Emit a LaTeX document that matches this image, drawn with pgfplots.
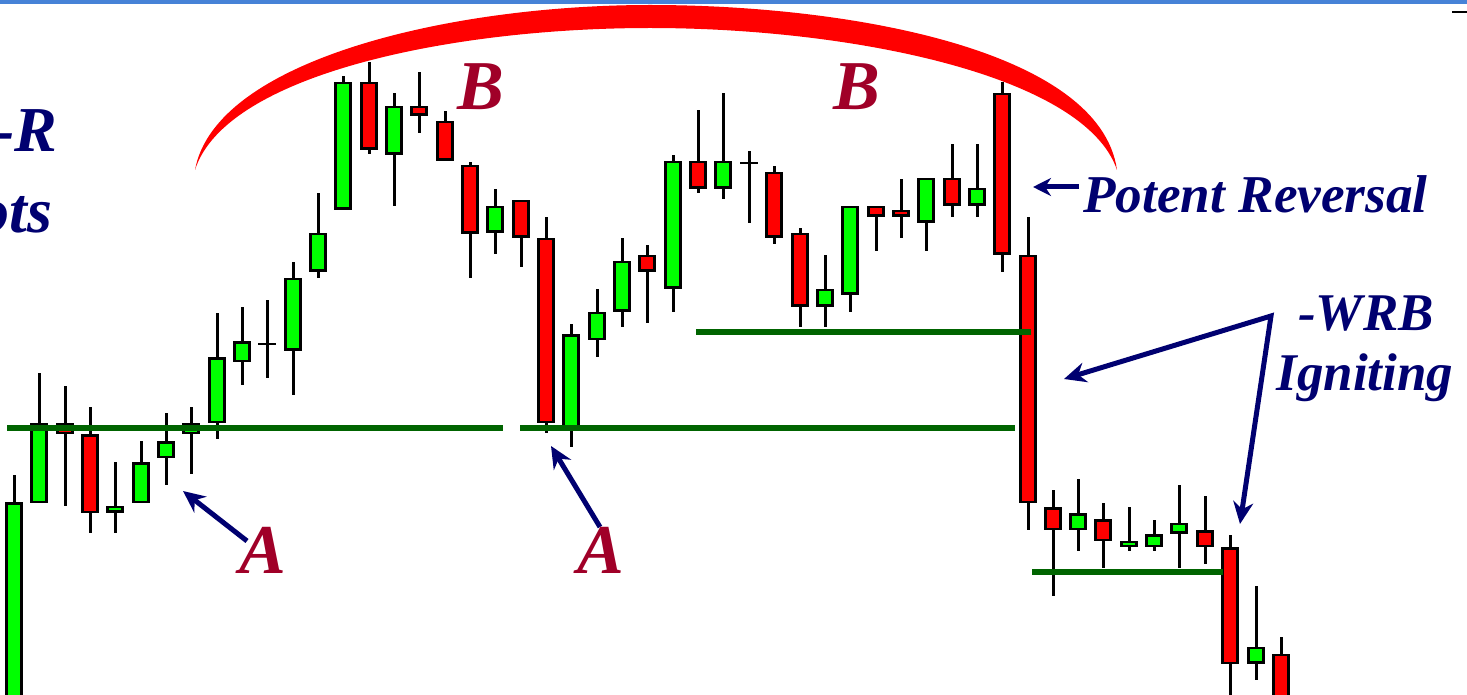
\documentclass[border=0pt]{standalone}
\usepackage{pgfplots}
\pgfplotsset{compat=1.18}
\usepackage{pgfplotstable}
\usepackage{fontspec}
\setmainfont{Liberation Serif}
\usetikzlibrary{arrows.meta}
\definecolor{candlegreen}{RGB}{0,255,0}
\definecolor{candlered}{RGB}{255,0,0}
\definecolor{supportgreen}{RGB}{0,100,0}
\definecolor{navytext}{RGB}{0,0,112}
\definecolor{crimson}{RGB}{160,0,40}
\definecolor{barblue}{RGB}{70,130,215}

% pixel-based price scale (y grows downward), columns: x high low bodytop bodybottom
\pgfplotstableread{
x hi lo top bot
14 475 760 503 760
39 373 502 424 502
115 462 533 507 512
141 441 502 463 502
166 413 485 442 457
191 407 474 424 433
217 313 439 358 422
242 307 385 342 361
293 262 395 279 350
318 193 278 234 271
343 76 209 83 209
394 93 206 107 154
495 189 254 207 232
571 324 447 335 427
597 289 357 313 339
622 238 327 262 311
673 155 312 162 288
723 93 199 162 188
825 255 327 290 306
850 207 312 207 294
926 179 251 179 222
977 144 217 189 205
1078 479 551 514 529
1129 507 551 542 546
1154 520 551 535 546
1179 485 568 524 533
1256 586 680 648 663
}\greencandles

\pgfplotstableread{
x hi lo top bot
65 386 506 424 433
90 407 533 435 512
369 62 154 83 149
419 72 133 107 115
445 111 160 122 160
470 162 278 166 233
521 201 267 201 237
546 217 433 239 422
647 245 323 256 271
698 110 193 162 188
774 166 244 173 237
800 228 327 234 306
876 207 251 207 216
901 179 238 211 216
952 144 217 179 205
1002 82 272 94 254
1028 217 530 256 502
1053 490 596 508 529
1103 503 568 520 540
1205 496 564 531 546
1230 535 760 548 663
1281 637 760 655 760
}\redcandles

\pgfplotstableread{
x hi lo top bot
267 300 378 343 345
749 151 223 162 164
}\dojicandles

\pgfplotsset{
  wick/.style={draw=none, mark=none, forget plot,
    error bars/.cd, y dir=both, y explicit, error mark=none,
    error bar style={draw=black, line width=1.5pt}},
  bodyline/.style 2 args={draw=none, mark=none, forget plot,
    error bars/.cd, y dir=both, y explicit, error mark=none,
    error bar style={draw=#1, line width=#2}},
}

\begin{document}
\begin{tikzpicture}
\useasboundingbox (0,0) rectangle (733.5pt,347.5pt);
\begin{axis}[at={(0,0)}, anchor=south west, scale only axis,
  width=733.5pt, height=347.5pt,
  xmin=0, xmax=1467, ymin=0, ymax=695, y dir=reverse,
  hide axis]

% window frame strip
\fill[barblue] (0,0) rectangle (1467,4);
\draw[black, line width=0.8pt] (1452,12) -- (1467,12);

% red arc
\fill[candlered] (195,170) .. controls (215,60) and (450,5) .. (650,5)
   .. controls (850,5) and (1100,50) .. (1117,170)
   .. controls (1085,75) and (850,28) .. (650,28)
   .. controls (450,28) and (225,75) .. (195,170) -- cycle;

% wicks
\addplot[wick] table[x=x, y expr=(\thisrow{hi}+\thisrow{lo})/2, y error expr=(\thisrow{lo}-\thisrow{hi})/2] {\greencandles};
\addplot[wick] table[x=x, y expr=(\thisrow{hi}+\thisrow{lo})/2, y error expr=(\thisrow{lo}-\thisrow{hi})/2] {\redcandles};
\addplot[wick] table[x=x, y expr=(\thisrow{hi}+\thisrow{lo})/2, y error expr=(\thisrow{lo}-\thisrow{hi})/2] {\dojicandles};

% body outlines
\addplot[bodyline={black}{8.6pt}] table[x=x, y expr=(\thisrow{top}+\thisrow{bot})/2, y error expr=(\thisrow{bot}-\thisrow{top})/2+0.6] {\greencandles};
\addplot[bodyline={black}{8.6pt}] table[x=x, y expr=(\thisrow{top}+\thisrow{bot})/2, y error expr=(\thisrow{bot}-\thisrow{top})/2+0.6] {\redcandles};
\addplot[bodyline={black}{8.6pt}] table[x=x, y expr=(\thisrow{top}+\thisrow{bot})/2, y error expr=(\thisrow{bot}-\thisrow{top})/2] {\dojicandles};
% body fills
\addplot[bodyline={candlegreen}{6.4pt}] table[x=x, y expr=(\thisrow{top}+\thisrow{bot})/2, y error expr=(\thisrow{bot}-\thisrow{top})/2-1.5] {\greencandles};
\addplot[bodyline={candlered}{6.4pt}] table[x=x, y expr=(\thisrow{top}+\thisrow{bot})/2, y error expr=(\thisrow{bot}-\thisrow{top})/2-1.5] {\redcandles};

% support lines
\addplot[supportgreen, line width=2.6pt, forget plot] coordinates {(7,428) (503,428)};
\addplot[supportgreen, line width=2.6pt, forget plot] coordinates {(520,428) (1015,428)};
\addplot[supportgreen, line width=2.6pt, forget plot] coordinates {(696,332) (1031,332)};
\addplot[supportgreen, line width=2.6pt, forget plot] coordinates {(1032,572) (1223,572)};

% arrows
\draw[navytext, line width=2.5pt, -{Stealth[length=11pt,width=10pt]}] (247,541) -- (183,491);
\draw[navytext, line width=2.5pt, -{Stealth[length=11pt,width=10pt]}] (600,527) -- (551,446);
\draw[navytext, line width=2.5pt, -{Stealth[length=9pt,width=9pt]}] (1079,187) -- (1033,187);
\draw[navytext, line width=2.5pt, {Stealth[length=11pt,width=10pt]}-{Stealth[length=11pt,width=10pt]}] (1064,379) -- (1271,316) -- (1240,524);

% texts
\node[anchor=base, text=crimson, font=\fontsize{35}{35}\selectfont\bfseries\itshape] at (263,573) {A};
\node[anchor=base, text=crimson, font=\fontsize{35}{35}\selectfont\bfseries\itshape] at (601,573) {A};
\node[anchor=base, text=crimson, font=\fontsize{35}{35}\selectfont\bfseries\itshape] at (481,110) {B};
\node[anchor=base, text=crimson, font=\fontsize{35}{35}\selectfont\bfseries\itshape] at (857,110) {B};
\node[anchor=base west, inner sep=0pt, text=navytext, font=\fontsize{26.6}{27}\selectfont\bfseries\itshape] at (1083,213) {Potent Reversal};
\node[anchor=base, inner sep=0pt, text=navytext, font=\fontsize{26.5}{27}\selectfont\bfseries\itshape] at (1366,330) {-WRB};
\node[anchor=base, inner sep=0pt, text=navytext, font=\fontsize{26.5}{27}\selectfont\bfseries\itshape] at (1365,390) {Igniting};
\node[anchor=base east, inner sep=0pt, text=navytext, font=\fontsize{32}{32}\selectfont\bfseries\itshape] at (58,152) {-R};
\node[anchor=base east, inner sep=0pt, text=navytext, font=\fontsize{32}{32}\selectfont\bfseries\itshape] at (53,233) {Spots};
\end{axis}
\end{tikzpicture}
\end{document}
